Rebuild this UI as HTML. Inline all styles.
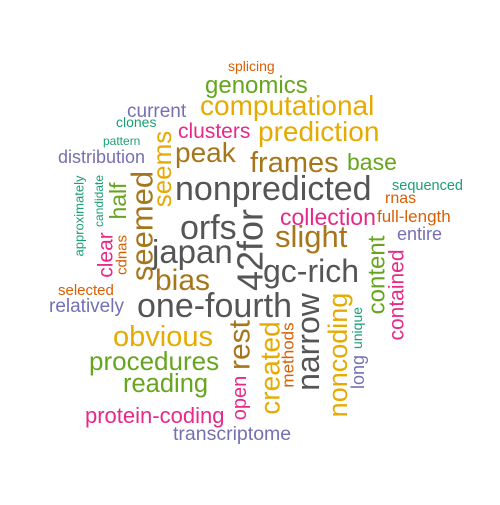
<!DOCTYPE html>
<html><head><meta charset="utf-8"><style>
html,body{margin:0;padding:0;background:#fff;}
svg text{font-family:"Liberation Sans",Arial,sans-serif;}
</style></head><body>
<svg id="cloud" width="500" height="500" viewBox="0 0 500 500" xmlns="http://www.w3.org/2000/svg">
<rect width="500" height="500" fill="#fff"/>
</svg>
<script>
const words = ["splicing","genomics","current","computational","clones","clusters","prediction","pattern","distribution","peak","frames","base","nonpredicted","sequenced","rnas","collection","full-length","entire","slight","orfs","japan","bias","gc-rich","one-fourth","selected","relatively","obvious","procedures","reading","protein-coding","transcriptome",
"approximately","candidate","half","clear","cdnas","seemed","seems","42for","content","contained","narrow","noncoding","created","methods","rest","open","unique","long"];
const sizes = [14,24,19,28,14,21,28,12,18,28,29,23,34,14.5,16,23,17,18,31,34,33,30,32,34,15,19,29,26,25.5,22,19.5,
13,12,23,21,15,31,26,36,24,21,32,27,28,17,30,20,14,18];
const colorIdx = [1,4,2,5,0,3,5,0,2,6,6,4,7,0,1,3,1,2,6,7,7,6,7,7,1,2,5,4,4,3,2,
0,0,4,3,1,6,5,7,4,3,7,5,5,1,6,3,0,2];
const rotated = [0,0,0,0,0,0,0,0,0,0,0,0,0,0,0,0,0,0,0,0,0,0,0,0,0,0,0,0,0,0,0,
1,1,1,1,1,1,1,1,1,1,1,1,1,1,1,1,1,1];
const posX = [228,205,127,200,116,178,258,103,58,175,250,347,175,392,385,280,377,397,275,180,152,155,263,137,58,49,113,89,123,85,173,
79,99,118,106,122,142,162,250,377,397,308,338,270,288,240,240,357,358];
const posY = [71,93,117,115,127,138,141,145,163,162,172,170,200,190,203,225,222,240,247,239,263,290,282,317,295,312,346,370,392,423,440,
216,201,201,255,255,226,169,250,275,295,342,355,368,355,345,398,328,372];
const palette = ["#1B9E77","#D95F02","#7570B3","#E7298A","#66A61E","#E6AB02","#A6761D","#555555"];
const svg = document.getElementById('cloud');
const NS = "http://www.w3.org/2000/svg";
for (let i = 0; i < words.length; i++) {
  const t = document.createElementNS(NS, 'text');
  t.textContent = words[i];
  t.setAttribute('font-size', sizes[i]);
  t.setAttribute('fill', palette[colorIdx[i]]);
  if (rotated[i]) {
    t.setAttribute('text-anchor', 'middle');
    t.setAttribute('dominant-baseline', 'central');
    t.setAttribute('transform', 'translate(' + posX[i] + ',' + posY[i] + ') rotate(-90)');
  } else {
    t.setAttribute('x', posX[i]);
    t.setAttribute('y', posY[i]);
  }
  
  
  svg.appendChild(t);
}
</script>
</body></html>
